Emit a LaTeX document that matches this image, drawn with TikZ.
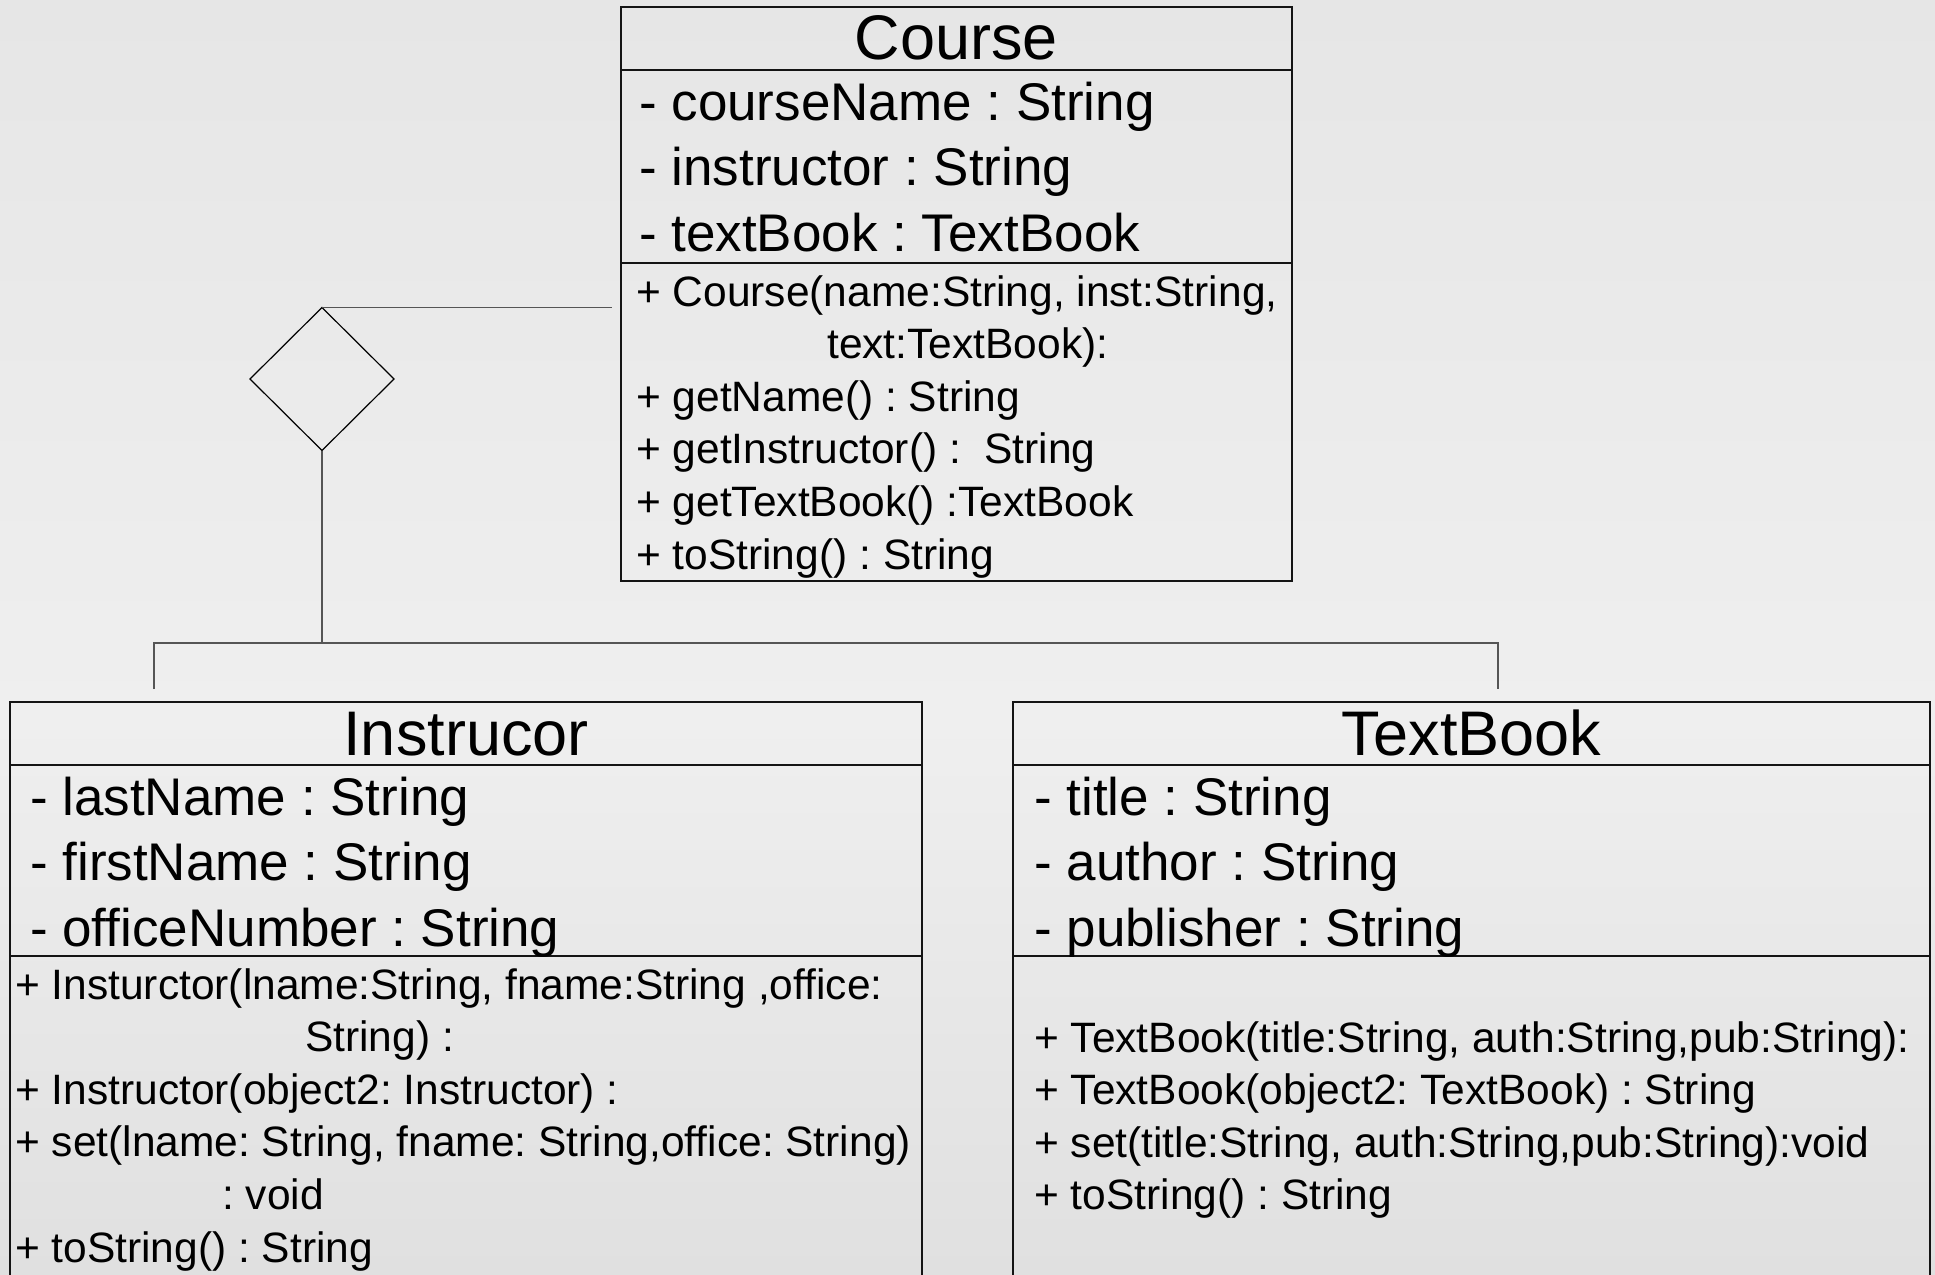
\documentclass[tikz,border=0pt]{standalone}
\usepackage{fontspec}
\setmainfont{Liberation Sans}
\usetikzlibrary{shapes.geometric,positioning,calc}
\definecolor{umlLine}{RGB}{20,20,20}
\definecolor{umlLink}{RGB}{85,85,85}
\definecolor{bgTop}{RGB}{230,230,230}
\definecolor{bgMid}{RGB}{239,239,239}
\definecolor{bgBot}{RGB}{224,224,224}
\frenchspacing

\begin{document}
\begin{tikzpicture}[x=1pt,y=-1pt,
    compart/.style={draw=umlLine,line width=1.6pt,inner sep=0,outer sep=0,anchor=north west},
    cname/.style={anchor=base,inner sep=0,font=\fontsize{63}{70}\selectfont},
    attr/.style={anchor=base west,inner sep=0,font=\fontsize{53}{60}\selectfont},
    op/.style={anchor=base west,inner sep=0,font=\fontsize{42.5}{50}\selectfont},
    link/.style={draw=umlLink,line width=1.5pt},
    agg/.style={diamond,draw=black,line width=1.2pt,inner sep=0,outer sep=0,minimum width=144pt,minimum height=143pt}
  ]
  \clip (0,0) rectangle (1935,1274);
  \shade[top color=bgTop,bottom color=bgMid] (0,0) rectangle (1935,720);
  \shade[top color=bgMid,bottom color=bgBot] (0,720) rectangle (1935,1274);

  % Course
  \node[compart,minimum width=671pt,minimum height=63pt] (courseHead) at (621,7) {};
  \node[compart,minimum width=671pt,minimum height=193pt] (courseAttr) at (courseHead.south west) {};
  \node[compart,minimum width=671pt,minimum height=318pt] (courseOps) at (courseAttr.south west) {};
  \node[cname] (courseName) at ([yshift=-52pt]courseHead.north) {Course};
  \node[attr] (courseA1) at ([xshift=18pt,yshift=-50pt]courseHead.south west) {- courseName : String};
  \node[attr] (courseA2) at ([yshift=-65.5pt]courseA1.base west) {- instructor : String};
  \node[attr] (courseA3) at ([yshift=-65.5pt]courseA2.base west) {- textBook : TextBook};
  \node[op] (courseM1) at ([xshift=15pt,yshift=-43pt]courseAttr.south west) {+ Course(name:String, inst:String,};
  \node[op] (courseM1b) at ([xshift=191pt,yshift=-52.6pt]courseM1.base west) {text:TextBook):};
  \node[op] (courseM2) at ([yshift=-105.2pt]courseM1.base west) {+ getName() : String};
  \node[op] (courseM3) at ([yshift=-52.6pt]courseM2.base west) {+ getInstructor() :\ \ String};
  \node[op] (courseM4) at ([yshift=-52.6pt]courseM3.base west) {+ getTextBook() :TextBook};
  \node[op] (courseM5) at ([yshift=-52.6pt]courseM4.base west) {+ toString() : String};

  % Instrucor
  \node[compart,minimum width=912pt,minimum height=63pt] (instHead) at (10,702) {};
  \node[compart,minimum width=912pt,minimum height=191pt] (instAttr) at (instHead.south west) {};
  \node[compart,minimum width=912pt,minimum height=400pt] (instOps) at (instAttr.south west) {};
  \node[cname] (instName) at ([yshift=-53pt]instHead.north) {Instrucor};
  \node[attr] (instA1) at ([xshift=20pt,yshift=-50pt]instHead.south west) {- lastName : String};
  \node[attr] (instA2) at ([yshift=-65.5pt]instA1.base west) {- firstName : String};
  \node[attr] (instA3) at ([yshift=-65.5pt]instA2.base west) {- officeNumber : String};
  \node[op] (instM1) at ([xshift=5pt,yshift=-43pt]instAttr.south west) {+ Insturctor(lname:String, fname:String ,office:};
  \node[op] (instM1b) at ([xshift=290pt,yshift=-52.6pt]instM1.base west) {String) :};
  \node[op] (instM2) at ([yshift=-105.2pt]instM1.base west) {+ Instructor(object2: Instructor) :};
  \node[op] (instM3) at ([yshift=-52.6pt]instM2.base west) {+ set(lname: String, fname: String,office: String)};
  \node[op] (instM3b) at ([xshift=207pt,yshift=-52.6pt]instM3.base west) {: void};
  \node[op] (instM4) at ([yshift=-105.2pt]instM3.base west) {+ toString() : String};

  % TextBook
  \node[compart,minimum width=917pt,minimum height=63pt] (bookHead) at (1013,702) {};
  \node[compart,minimum width=917pt,minimum height=191pt] (bookAttr) at (bookHead.south west) {};
  \node[compart,minimum width=917pt,minimum height=400pt] (bookOps) at (bookAttr.south west) {};
  \node[cname] (bookName) at ([yshift=-53pt]bookHead.north) {TextBook};
  \node[attr] (bookA1) at ([xshift=21pt,yshift=-50pt]bookHead.south west) {- title : String};
  \node[attr] (bookA2) at ([yshift=-65.5pt]bookA1.base west) {- author : String};
  \node[attr] (bookA3) at ([yshift=-65.5pt]bookA2.base west) {- publisher : String};
  \node[op] (bookM1) at ([xshift=21pt,yshift=-96pt]bookAttr.south west) {+ TextBook(title:String, auth:String,pub:String):};
  \node[op] (bookM2) at ([yshift=-52.6pt]bookM1.base west) {+ TextBook(object2: TextBook) : String};
  \node[op] (bookM3) at ([yshift=-52.6pt]bookM2.base west) {+ set(title:String, auth:String,pub:String):void};
  \node[op] (bookM4) at ([yshift=-52.6pt]bookM3.base west) {+ toString() : String};

  % aggregation
  \node[agg] (aggr) at (322,379) {};
  \coordinate (joinL) at (154,643);
  \coordinate (joinR) at (1498,643);
  \draw[link,shorten >=9pt] (aggr.north) -- (aggr.north -| courseOps.west);
  \draw[link] (aggr.south) -- (aggr.south |- joinL);
  \draw[link,shorten <=13pt,shorten >=13pt] (instHead.north -| joinL) -- (joinL) -- (joinR) -- (bookHead.north -| joinR);
\end{tikzpicture}
\end{document}
